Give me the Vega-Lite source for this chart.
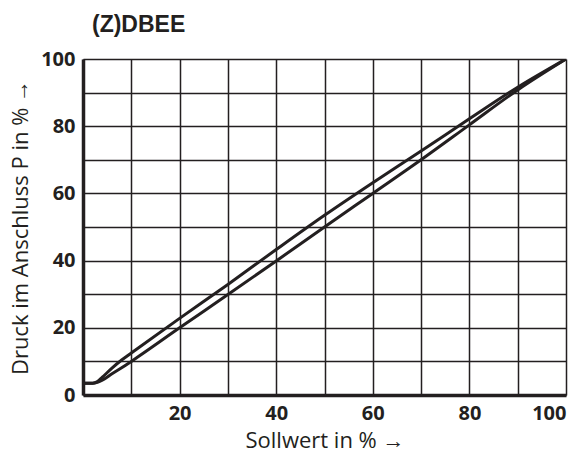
{
  "$schema": "https://vega.github.io/schema/vega-lite/v6.json",
  "width": 483,
  "height": 336,
  "autosize": {"type": "none"},
  "padding": {"left": 83, "top": 59, "right": 21, "bottom": 62},
  "background": "white",
  "title": {
    "text": "(Z)DBEE",
    "anchor": "start",
    "frame": "group",
    "dx": 9,
    "offset": 12,
    "font": "Liberation Sans",
    "fontSize": 23,
    "fontWeight": "bold",
    "color": "#231f20"
  },
  "config": {
    "view": {"stroke": null},
    "axis": {
      "labelFont": "Open Sans",
      "labelFontSize": 20,
      "labelFontWeight": "bold",
      "labelColor": "#231f20",
      "titleFont": "Open Sans",
      "titleFontSize": 22,
      "titleFontWeight": "normal",
      "titleColor": "#231f20",
      "grid": true,
      "gridColor": "#231f20",
      "gridWidth": 1.5,
      "gridOpacity": 1,
      "ticks": false,
      "domainColor": "#231f20",
      "domainWidth": 3.5
    }
  },
  "data": {
    "values": [
      {"s": 0, "p": 3.5, "b": "up"},
      {"s": 2, "p": 3.5, "b": "up"},
      {"s": 3, "p": 4.0, "b": "up"},
      {"s": 4, "p": 5.3, "b": "up"},
      {"s": 6, "p": 8.0, "b": "up"},
      {"s": 8, "p": 10.4, "b": "up"},
      {"s": 10, "p": 12.5, "b": "up"},
      {"s": 20, "p": 22.8, "b": "up"},
      {"s": 30, "p": 32.9, "b": "up"},
      {"s": 40, "p": 43.3, "b": "up"},
      {"s": 50, "p": 53.5, "b": "up"},
      {"s": 60, "p": 63.2, "b": "up"},
      {"s": 70, "p": 72.6, "b": "up"},
      {"s": 80, "p": 82.2, "b": "up"},
      {"s": 90, "p": 91.6, "b": "up"},
      {"s": 100, "p": 100, "b": "up"},
      {"s": 0, "p": 3.5, "b": "down"},
      {"s": 2, "p": 3.5, "b": "down"},
      {"s": 3, "p": 3.8, "b": "down"},
      {"s": 4, "p": 4.4, "b": "down"},
      {"s": 6, "p": 6.3, "b": "down"},
      {"s": 8, "p": 8.1, "b": "down"},
      {"s": 10, "p": 10.0, "b": "down"},
      {"s": 20, "p": 20.0, "b": "down"},
      {"s": 30, "p": 29.9, "b": "down"},
      {"s": 40, "p": 39.9, "b": "down"},
      {"s": 50, "p": 50.0, "b": "down"},
      {"s": 60, "p": 60.0, "b": "down"},
      {"s": 70, "p": 70.0, "b": "down"},
      {"s": 80, "p": 80.4, "b": "down"},
      {"s": 90, "p": 90.8, "b": "down"},
      {"s": 100, "p": 100, "b": "down"}
    ]
  },
  "mark": {"type": "line", "strokeWidth": 3, "interpolate": "monotone", "clip": true},
  "encoding": {
    "x": {
      "field": "s",
      "type": "quantitative",
      "scale": {"domain": [0, 100], "nice": false},
      "axis": {
        "values": [0, 10, 20, 30, 40, 50, 60, 70, 80, 90, 100],
        "labelExpr": "datum.value > 0 && datum.value % 20 == 0 ? datum.label : ''",
        "labelPadding": 8,
        "title": "Sollwert in % →",
        "titlePadding": 7
      }
    },
    "y": {
      "field": "p",
      "type": "quantitative",
      "scale": {"domain": [0, 100], "nice": false},
      "axis": {
        "values": [0, 10, 20, 30, 40, 50, 60, 70, 80, 90, 100],
        "labelExpr": "datum.value % 20 == 0 ? datum.label : ''",
        "labelPadding": 8,
        "title": "Druck im Anschluss P in % →",
        "titlePadding": 8,
        "encode": {
          "labels": {
            "update": {
              "dy": {"signal": "datum.value == 0 ? 12 : 0"}
            }
          }
        }
      }
    },
    "color": {
      "field": "b",
      "type": "nominal",
      "scale": {"range": ["#231f20", "#231f20"]},
      "legend": null
    },
    "detail": {"field": "b"}
  }
}
